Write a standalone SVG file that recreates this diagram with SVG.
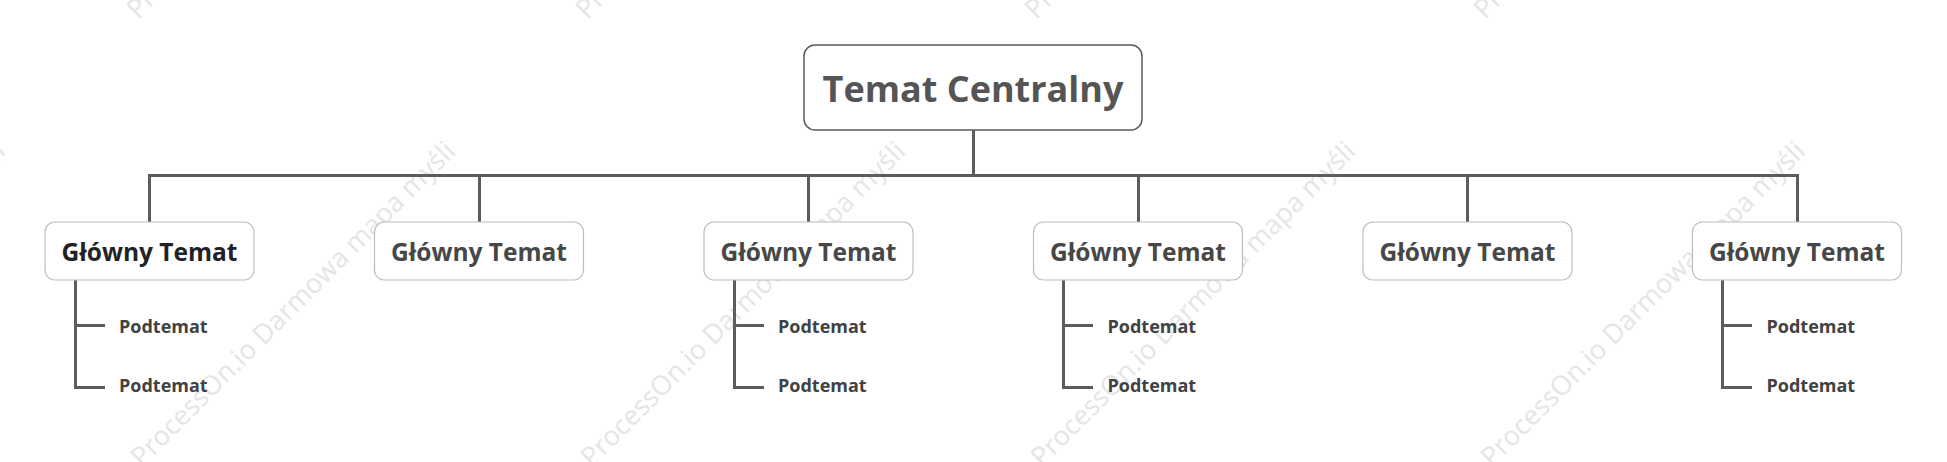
<svg xmlns="http://www.w3.org/2000/svg" width="1947" height="462" viewBox="0 0 1947 462">
<style>
.wm{font-family:"Open Sans","Liberation Sans",sans-serif;font-size:27px;fill:#e5e5e5;}
.conn{fill:none;stroke:#5c5c5c;stroke-width:3;stroke-linejoin:miter;stroke-linecap:butt;}
.center-box{fill:#fff;stroke:#5a5a5a;stroke-width:1.5;}
.center-text{font-family:"Open Sans","Liberation Sans",sans-serif;font-weight:700;font-size:36px;fill:#555;text-anchor:middle;}
.main-box{fill:#fff;stroke:#bdbdbd;stroke-width:1.2;}
.main-text{font-family:"Open Sans","Liberation Sans",sans-serif;font-weight:700;font-size:24.5px;fill:#474747;text-anchor:middle;}
.main-text.sel{fill:#1f2329;}
.sub-text{font-family:"Open Sans","Liberation Sans",sans-serif;font-weight:700;font-size:18px;fill:#424242;}
</style>
<rect width="1947" height="462" fill="#fff"/>
<g id="watermark">
<text class="wm" transform="translate(138,20) rotate(-45)">ProcessOn.io Darmowa mapa myśli</text>
<text class="wm" transform="translate(587,20) rotate(-45)">ProcessOn.io Darmowa mapa myśli</text>
<text class="wm" transform="translate(1036,20) rotate(-45)">ProcessOn.io Darmowa mapa myśli</text>
<text class="wm" transform="translate(1485,20) rotate(-45)">ProcessOn.io Darmowa mapa myśli</text>
<text class="wm" transform="translate(-308,468) rotate(-45)">ProcessOn.io Darmowa mapa myśli</text>
<text class="wm" transform="translate(142,468) rotate(-45)">ProcessOn.io Darmowa mapa myśli</text>
<text class="wm" transform="translate(592,468) rotate(-45)">ProcessOn.io Darmowa mapa myśli</text>
<text class="wm" transform="translate(1042,468) rotate(-45)">ProcessOn.io Darmowa mapa myśli</text>
<text class="wm" transform="translate(1492,468) rotate(-45)">ProcessOn.io Darmowa mapa myśli</text>
</g>
<g id="connectors">
<path class="conn" d="M973.5,130 V175.5"/>
<path class="conn" d="M149.5,222 V175.5 H1797.5 V222"/>
<path class="conn" d="M479.5,175.5 V222"/>
<path class="conn" d="M808.5,175.5 V222"/>
<path class="conn" d="M1138.5,175.5 V222"/>
<path class="conn" d="M1467.5,175.5 V222"/>
<path class="conn" d="M75.5,280 V387.5 H105 M75.5,325.5 H105"/>
<path class="conn" d="M734.5,280 V387.5 H764 M734.5,325.5 H764"/>
<path class="conn" d="M1063.5,280 V387.5 H1093 M1063.5,325.5 H1093"/>
<path class="conn" d="M1722.5,280 V387.5 H1752 M1722.5,325.5 H1752"/>
</g>
<g id="central">
<rect class="center-box" x="804" y="45" width="338" height="85" rx="11"/>
<text class="center-text" x="973" y="102">Temat Centralny</text>
</g>
<g id="main1">
<rect class="main-box" x="45" y="222" width="209" height="58" rx="10"/>
<text class="main-text sel" x="149.5" y="261">Główny Temat</text>
</g>
<g id="main2">
<rect class="main-box" x="374.5" y="222" width="209" height="58" rx="10"/>
<text class="main-text" x="479" y="261">Główny Temat</text>
</g>
<g id="main3">
<rect class="main-box" x="704" y="222" width="209" height="58" rx="10"/>
<text class="main-text" x="808.5" y="261">Główny Temat</text>
</g>
<g id="main4">
<rect class="main-box" x="1033.5" y="222" width="209" height="58" rx="10"/>
<text class="main-text" x="1138" y="261">Główny Temat</text>
</g>
<g id="main5">
<rect class="main-box" x="1363" y="222" width="209" height="58" rx="10"/>
<text class="main-text" x="1467.5" y="261">Główny Temat</text>
</g>
<g id="main6">
<rect class="main-box" x="1692.5" y="222" width="209" height="58" rx="10"/>
<text class="main-text" x="1797" y="261">Główny Temat</text>
</g>
<g id="sub1a"><text class="sub-text" x="119" y="333">Podtemat</text></g>
<g id="sub1b"><text class="sub-text" x="119" y="392">Podtemat</text></g>
<g id="sub3a"><text class="sub-text" x="778" y="333">Podtemat</text></g>
<g id="sub3b"><text class="sub-text" x="778" y="392">Podtemat</text></g>
<g id="sub4a"><text class="sub-text" x="1107.5" y="333">Podtemat</text></g>
<g id="sub4b"><text class="sub-text" x="1107.5" y="392">Podtemat</text></g>
<g id="sub6a"><text class="sub-text" x="1766.5" y="333">Podtemat</text></g>
<g id="sub6b"><text class="sub-text" x="1766.5" y="392">Podtemat</text></g>
</svg>
